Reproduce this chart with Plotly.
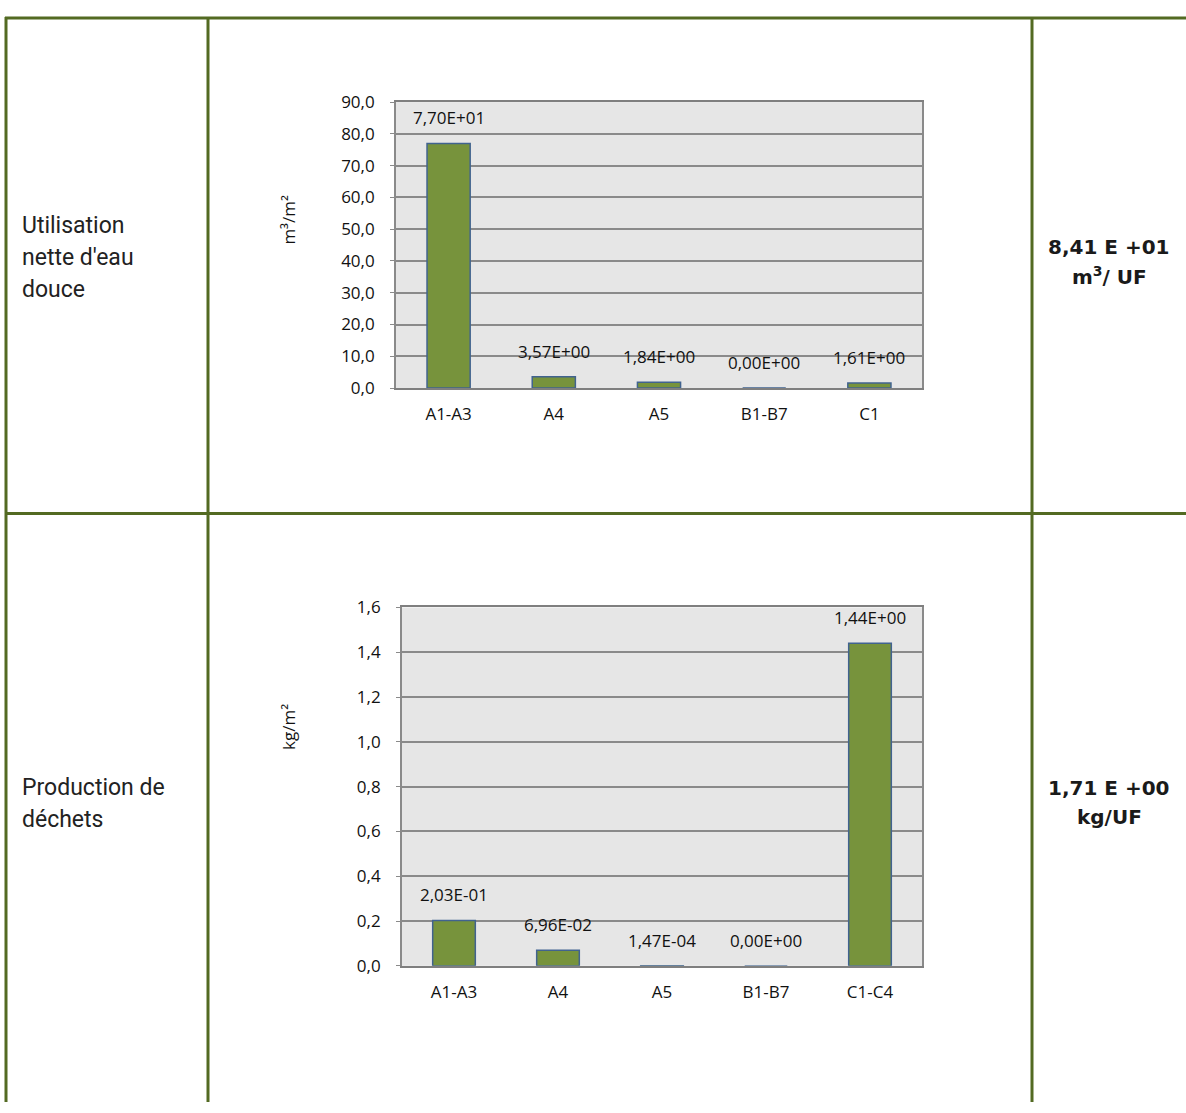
import plotly.graph_objects as go

W, H = 1186, 1113

# ---- data ----
cats_water = ["A1-A3", "A4", "A5", "B1-B7", "C1"]
vals_water = [77.0, 3.57, 1.84, 0.0, 1.61]
cats_waste = ["A1-A3", "A4", "A5", "B1-B7", "C1-C4"]
vals_waste = [0.203, 0.0696, 0.000147, 0.0, 1.44]
row_labels_water = ["Utilisation", "nette d'eau", "douce"]
row_labels_waste = ["Production de", "déchets"]
total_water = ["8,41 E +01", "m<sup>3</sup>/ UF"]
total_waste = ["1,71 E +00", "kg/UF"]
ytitle_water = "m³/m²"
ytitle_waste = "kg/m²"


def fmt(v):
    return f"{v:.2E}".replace(".", ",")


def px(x):
    return x / W


def py(y):
    return 1 - y / H


BORDER = "#536A22"
BAR = "#77933C"
BAR_LINE = "#41638F"
GRID = "#8A8A8A"
CHART_FONT = "Open Sans"
TXT_FONT = "Roboto"
CF = 17

fig = go.Figure()

fig.add_trace(go.Bar(x=cats_water, y=vals_water, xaxis="x", yaxis="y",
                     marker=dict(color=BAR, line=dict(color=BAR_LINE, width=1.5)),
                     width=0.41, showlegend=False, hoverinfo="skip"))
fig.add_trace(go.Bar(x=cats_waste, y=vals_waste, xaxis="x2", yaxis="y2",
                     marker=dict(color=BAR, line=dict(color=BAR_LINE, width=1.5)),
                     width=0.41, showlegend=False, hoverinfo="skip"))

annotations = []
for c, v in zip(cats_water, vals_water):
    annotations.append(dict(x=c, y=v, xref="x", yref="y", text=fmt(v), showarrow=False,
                            yanchor="bottom", yshift=12,
                            font=dict(family=CHART_FONT, size=CF, color="#111")))
for c, v in zip(cats_waste, vals_waste):
    annotations.append(dict(x=c, y=v, xref="x2", yref="y2", text=fmt(v), showarrow=False,
                            yanchor="bottom", yshift=12,
                            font=dict(family=CHART_FONT, size=CF, color="#111")))

# row labels (left column)
for i, t in enumerate(row_labels_water):
    annotations.append(dict(x=px(20), y=py(218 + 32.5 * i), xref="paper", yref="paper", text=t,
                            showarrow=False, xanchor="left", yanchor="middle",
                            font=dict(family=TXT_FONT, size=23, color="#222")))
for i, t in enumerate(row_labels_waste):
    annotations.append(dict(x=px(20), y=py(792 + 32.5 * i), xref="paper", yref="paper", text=t,
                            showarrow=False, xanchor="left", yanchor="middle",
                            font=dict(family=TXT_FONT, size=23, color="#222")))

# totals (right column)
for i, t in enumerate(total_water):
    annotations.append(dict(x=px(1109), y=py(240 + 30 * i), xref="paper", yref="paper", text="<b>" + t + "</b>",
                            showarrow=False, xanchor="center", yanchor="middle",
                            font=dict(family="DejaVu Sans", size=20, color="#1a1a1a")))
for i, t in enumerate(total_waste):
    annotations.append(dict(x=px(1109), y=py(792 + 30 * i), xref="paper", yref="paper", text="<b>" + t + "</b>",
                            showarrow=False, xanchor="center", yanchor="middle",
                            font=dict(family="DejaVu Sans", size=20, color="#1a1a1a")))

# y-axis titles
annotations.append(dict(x=px(289), y=py(212), xref="paper", yref="paper", text=ytitle_water,
                        showarrow=False, textangle=-90, xanchor="center", yanchor="middle",
                        font=dict(family=CHART_FONT, size=CF, color="#111")))
annotations.append(dict(x=px(289), y=py(730), xref="paper", yref="paper", text=ytitle_waste,
                        showarrow=False, textangle=-90, xanchor="center", yanchor="middle",
                        font=dict(family=CHART_FONT, size=CF, color="#111")))

# table borders
shapes = []
line = dict(color=BORDER, width=3)
shapes.append(dict(type="line", xref="paper", yref="paper", x0=px(5), x1=1, y0=py(6), y1=py(6), line=line))
shapes.append(dict(type="line", xref="paper", yref="paper", x0=px(5), x1=1, y0=py(512), y1=py(512), line=line))
for xv in (6, 208, 1032):
    shapes.append(dict(type="line", xref="paper", yref="paper", x0=px(xv), x1=px(xv), y0=py(5), y1=0,
                       line=line))

axis_common = dict(showgrid=True, gridcolor=GRID, gridwidth=1.8, showline=True, linecolor=GRID,
                   linewidth=1.8, mirror=True, ticks="outside", ticklen=4, tickcolor=GRID,
                   tickfont=dict(family=CHART_FONT, size=CF, color="#111"), tickformat=".1f",
                   zeroline=False, ticklabelstandoff=12)
x_common = dict(showgrid=False, showline=True, linecolor="#7F7F7F", linewidth=2, mirror=True,
                ticks="", tickfont=dict(family=CHART_FONT, size=CF, color="#111"),
                ticklabelstandoff=10)

fig.update_layout(
    width=W, height=H, margin=dict(l=0, r=0, t=0, b=0),
    paper_bgcolor="white", plot_bgcolor="#E6E6E6",
    separators=", ",
    xaxis=dict(domain=[px(396), px(922)], anchor="y", **x_common),
    yaxis=dict(domain=[py(384), py(92)], anchor="x", range=[0, 90], dtick=10, **axis_common),
    xaxis2=dict(domain=[px(402), px(922)], anchor="y2", **x_common),
    yaxis2=dict(domain=[py(974), py(608)], anchor="x2", range=[0, 1.6], dtick=0.2, **axis_common),
    annotations=annotations, shapes=shapes,
    bargap=0.59,
)

fig.write_html("out.html")
